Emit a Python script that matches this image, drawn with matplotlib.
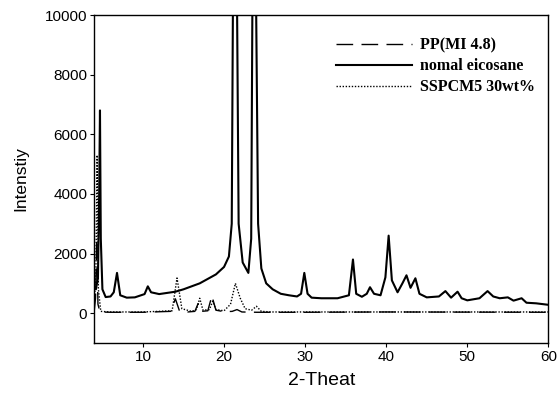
import numpy as np
import matplotlib.pyplot as plt

# n-eicosane (solid)
eico_x = [4.0, 4.2, 4.45, 4.6, 4.7, 4.8, 5.0, 5.4, 6.0, 6.4, 6.8, 7.2, 8.0, 9.0, 10.2,
          10.6, 11.0, 12.0, 13.0, 14.0, 15.0, 16.0, 17.0, 18.0, 19.0, 20.0, 20.6, 20.95,
          21.1, 21.6, 21.8, 22.3, 23.0, 23.35, 23.5, 23.95, 24.2, 24.6, 25.2,
          26.0, 27.0, 28.0, 29.0, 29.5, 29.9, 30.3, 30.8, 32.0, 34.0, 35.4, 35.9, 36.3,
          37.0, 37.6, 38.0, 38.5, 39.3, 39.9, 40.3, 40.7, 41.4, 42.0, 42.5, 43.0, 43.6,
          44.1, 45.0, 46.5, 47.3, 48.0, 48.8, 49.3, 50.0, 51.5, 52.5, 53.2, 54.0, 55.0,
          55.7, 56.7, 57.3, 58.5, 60.0]
eico_y = [900, 800, 1200, 4000, 6800, 2500, 800, 540, 560, 700, 1350, 600, 520, 530, 640,
          900, 700, 640, 680, 720, 800, 900, 1000, 1150, 1300, 1550, 1900, 3000,
          10500, 10500, 3000, 1700, 1350, 2500, 10500, 10500, 3000, 1500, 1000,
          800, 650, 600, 560, 650, 1350, 650, 520, 500, 500, 600, 1800, 650,
          550, 650, 870, 650, 600, 1200, 2600, 1100, 700, 1000, 1270, 850, 1170,
          650, 530, 560, 740, 520, 720, 500, 430, 500, 740, 560, 500, 530,
          420, 500, 350, 330, 280]

# PP(MI 4.8) (dashed)
pp_x = [4.0, 4.15, 4.3, 4.45, 4.7, 6.0, 10.0, 13.4, 14.0, 14.5, 15.5, 16.4, 16.8, 17.2,
        18.0, 18.5, 19.0, 20.0, 21.0, 21.6, 22.2, 24.0, 30.0, 40.0, 60.0]
pp_y = [100, 500, 2500, 300, 40, 30, 30, 60, 480, 80, 40, 60, 320, 60,
        80, 580, 100, 50, 60, 120, 40, 30, 30, 40, 30]

# SSPCM5 30wt% (dotted)
ss_x = [4.0, 4.2, 4.35, 4.5, 4.8, 6.0, 10.0, 13.6, 14.2, 14.8, 16.0, 16.6, 17.0, 17.4,
        18.2, 18.6, 19.0, 20.0, 20.8, 21.4, 22.0, 22.6, 23.4, 24.0, 24.6, 26.0, 40.0, 60.0]
ss_y = [300, 1500, 5300, 800, 60, 40, 40, 80, 1180, 150, 60, 120, 500, 100,
        120, 400, 120, 80, 300, 1000, 500, 150, 100, 230, 60, 40, 40, 40]

fig = plt.figure(figsize=(5.59, 3.99), dpi=100)
ax = fig.add_axes([0.1687, 0.1404, 0.8123, 0.822])

ax.plot(pp_x, pp_y, color="black", lw=1.0, ls=(0, (12, 6)), label="PP(MI 4.8)")
ax.plot(eico_x, eico_y, color="black", lw=1.5, label="nomal eicosane")
ax.plot(ss_x, ss_y, color="black", lw=1.0, ls=(0, (1, 1.2)), label="SSPCM5 30wt%")

ax.set_xlim(4, 60)
ax.set_ylim(-1000, 10000)
ax.set_xticks([10, 20, 30, 40, 50, 60])
ax.set_yticks([0, 2000, 4000, 6000, 8000, 10000])
ax.tick_params(direction="out", length=3, width=0.8, labelsize=11, pad=2,
               top=False, right=False)
for lab in ax.get_xticklabels() + ax.get_yticklabels():
    lab.set_family("Liberation Sans")
for sp in ax.spines.values():
    sp.set_linewidth(1.0)

ax.set_xlabel("2-Theat", family="Liberation Sans", fontsize=14, labelpad=6)
ax.set_ylabel("Intenstiy", family="Liberation Sans", fontsize=12.5, labelpad=12)

leg = ax.legend(loc="upper left", bbox_to_anchor=(0.5, 0.975), frameon=False,
                handlelength=4.8, handletextpad=0.5, labelspacing=0.3,
                prop={"family": "Liberation Serif", "weight": "bold", "size": 11.5})

fig.savefig("out.png", dpi=100, facecolor="white")
